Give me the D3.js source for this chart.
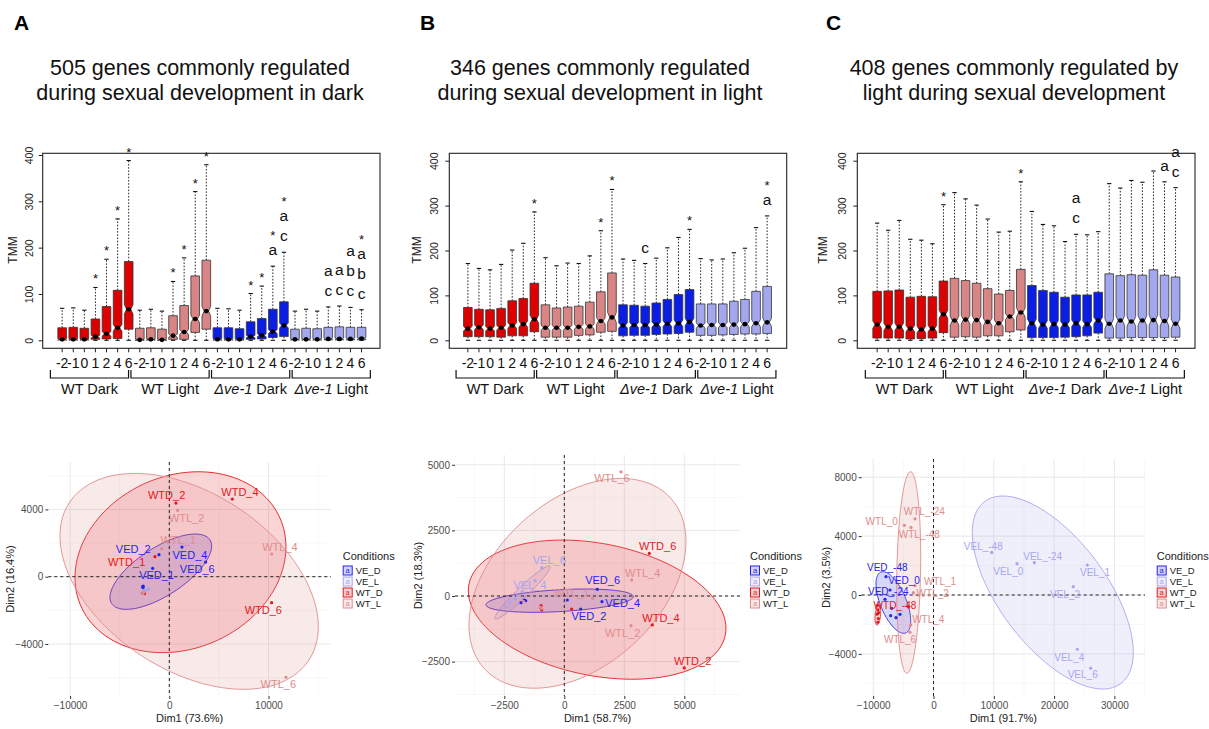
<!DOCTYPE html>
<html><head><meta charset="utf-8">
<script src="https://cdn.jsdelivr.net/npm/d3@7"></script>
<style>
body{margin:0;background:#fff}
svg{display:block}
text{font-family:"Liberation Sans",Arial,Helvetica,sans-serif}
</style>
</head><body>
<svg id="c" width="1209" height="729"></svg>
<script>
// ================= DATA =================
const panelLetters = ["A","B","C"];
const titleLines = [
  ["505 genes commonly regulated","during sexual development in dark"],
  ["346 genes commonly regulated","during sexual development in light"],
  ["408 genes commonly regulated by","light during sexual development"]
];
const timeLabels = ["-2","-1","0","1","2","4","6"];
const groupNames = ["WT Dark","WT Light","Δve-1 Dark","Δve-1 Light"];
const boxYTicks = [0,100,200,300,400];
const geneCounts = [505,346,408];

// Panel A boxplots (28 boxes: 4 groups x 7 time points)
const A_q1  = [1,1,1,2,3,4,24, 1,1,1,2,2,17,24, 1,1,1,2,3,6,8, 1,1,1,1,1,1,1];
const A_med = [2,2,2,8,14,27,67, 1,2,1,10,18,46,63, 2,2,2,8,11,19,32, 2,2,2,3,3,3,4];
const A_q3  = [27,28,26,46,73,108,170, 26,27,24,53,75,139,173, 27,27,25,40,47,67,83, 24,26,25,28,29,28,28];
const A_hi  = [69,70,65,114,175,262,388, 65,67,63,127,178,321,379, 69,68,65,101,117,160,190, 63,67,63,72,74,71,66];
const A_sig = ["","","","*","*","*","*", "","","","*","*","*","*", "","","","*","*","*a","*ac", "","","","ac","ac","abc","*abc"];

// Panel B boxplots
const B_q1  = [8,8,8,7,10,10,19, 7,7,7,11,12,18,20, 10,11,11,13,14,15,18, 11,11,12,13,14,14,15];
const B_med = [26,29,26,28,33,36,47, 28,28,28,30,31,43,51, 33,34,34,35,37,38,41, 33,34,34,35,36,38,40];
const B_q3  = [73,69,68,71,88,93,127, 79,72,74,76,85,108,150, 79,78,76,83,91,102,113, 81,81,81,87,91,109,120];
const B_hi  = [171,160,157,169,201,216,286, 184,166,172,171,188,244,336, 181,178,171,183,206,229,247, 182,179,181,195,205,251,277];
const B_sig = ["","","","","","","*", "","","","","","*","*", "","","c","","","","*", "","","","","","","*a"];

// Panel C boxplots
const C_q1  = [5,5,5,3,4,5,17, 7,8,7,10,10,19,23, 6,6,6,7,8,10,16, 5,5,6,6,6,6,7];
const C_med = [35,30,30,26,24,26,58, 44,46,45,41,38,53,62, 38,35,36,35,38,36,44, 37,44,42,44,45,43,37];
const C_q3  = [109,110,112,96,98,97,132, 138,133,127,115,103,111,158, 122,111,107,96,101,101,107, 148,144,146,145,157,145,141];
const C_hi  = [261,245,267,225,223,215,302, 329,315,301,270,241,243,353, 287,258,255,220,236,235,242, 349,339,356,352,377,353,340];
const C_sig = ["","","","","","","*", "","","","","","","*", "","","","","ac","","", "","","","","","a","ac"];

// PCA
const condNames = ["VE_D","VE_L","WT_D","WT_L"];
const dimLabels = [["Dim1 (73.6%)","Dim2 (16.4%)"],["Dim1 (58.7%)","Dim2 (18.3%)"],["Dim1 (91.7%)","Dim2 (3.5%)"]];
const pcaA_xTicks = [-10000,0,10000];
const pcaA_yTicks = [-4000,0,4000];
const pcaB_xTicks = [-2500,0,2500,5000];
const pcaB_yTicks = [-2500,0,2500,5000];
const pcaC_xTicks = [-10000,0,10000,20000,30000];
const pcaC_yTicks = [-4000,0,4000,8000];

// PCA A samples (cond index into condNames), coordinates and label positions (data units)
const pcaA_name = ["WTD_2","WTL_2","WTD_4","WTL_4","WTL_1","VED_2","WTD_1","VED_4","VED_6","VED_1","WTD_6","WTL_6",
  "","","", "","","","","","","", "","","", "","",""];
const pcaA_cond = [2,3,2,3,3,0,2,0,0,0,2,3, 0,0,0, 1,1,1,1,1,1,1, 2,2,2, 3,3,3];
const pcaA_x = [672,840,6351,10316,-773,-1042,-1445,1277,3663,-1680,10316,11761,
  -2621,-2688,-2650, -2800,-2650,-2500,-2400,-2250,-2100,-2600, -2681,-2600,-2500, -2621,-2580,-2680];
const pcaA_y = [4376,3941,4614,1347,1663,1307,1188,1762,871,495,-1545,-5980,
  -553,-594,-650, -960,-910,-860,-820,-770,-720,-890, -987,-980,-1000, -950,-900,-1000];
const pcaA_lx = [-269,1747,7124,11156,907,-3629,-4301,2083,2823,-1277,9476,10988];
const pcaA_ly = [4851,3505,5010,1743,2178,1644,891,1287,475,99,-1980,-6396];
// ellipses per condition: centre, half-extents, correlation
const ellA_cx = [-857,-2450,1126,2000];
const ellA_cy = [297,-840,862,-277];
const ellA_rx = [5124,450,10635,13021];
const ellA_ry = [2238,170,5376,6416];
const ellA_rho = [0.68,0.97,0.17,-0.42];

const pcaB_name = ["WTL_6","WTD_6","WTL_4","VED_6","WTL_1","VED_4","VED_2","WTL_2","WTD_4","WTD_2","VEL_6","VEL_4",
  "","","","", "","","","","", "","","","", "","",""];
const pcaB_cond = [3,2,3,0,3,0,0,3,2,2,1,1, 0,0,0,0, 1,1,1,1,1, 2,2,2,2, 3,3,3];
const pcaB_x = [2361,3542,2806,1375,1181,1569,683,2778,3667,5000,-942,-1750,
  -1804,-1667,-1608,125, -1221,-2262,-2050,-2400,-1950, -971,-971,-942,308, -1000,-950,-1700];
const pcaB_y = [4733,1624,609,254,-89,-216,-495,-1129,-1104,-2741,1078,164,
  -255,-152,-179,-152, 583,-240,-120,-420,0, -370,-469,-533,-495, -420,-480,-200];
const pcaB_lx = [1986,3889,3264,1597,306,2431,1028,2431,4028,5347,-625,-1431];
const pcaB_ly = [4480,1904,863,609,127,-279,-761,-1396,-850,-2462,1371,419];
const ellB_cx = [-194,-1743,1368,549];
const ellB_cy = [-178,133,-520,482];
const ellB_rx = [3069,1146,5368,4521];
const ellB_ry = [444,1009,2652,3997];
const ellB_rho = [0.35,0.96,-0.27,0.4];

const pcaC_name = ["WTL_-24","WTL_0","WTL_-48","VEL_-48","VEL_-24","VEL_0","VEL_1","VEL_2","VEL_4","VEL_6",
  "VED_-48","VED_0","VED_-24","WTD_-48","WTL_1","WTL_2","WTL_4","WTL_6",
  "","","","", "","","","","",""];
const pcaC_cond = [3,3,3,1,1,1,1,1,1,1, 0,0,0,2,3,3,3,3, 0,0,0,0, 2,2,2,2,2,2];
const pcaC_x = [-3068,-4842,-3731,9646,16720,13847,25506,23184,23847,26070,
  -7877,-7214,-8043,-4179,-3068,-3350,-3781,-3897,
  -6932,-6219,-5556,-7098, -9300,-9200,-9350,-9150,-9250,-9100];
const pcaC_y = [5175,4723,4588,2893,2192,2124,2034,565,-3684,-4972,
  1243,340,-292,-794,632,158,-2034,-2534,
  -904,-1542,-1311,-1406, -700,-1000,-1300,-1600,-1850,-1200];
const pcaC_lx = [-1526,-8590,-2355,8259,18109,12405,26783,21808,22521,24743,-7662,-4892,-7496,-6385,1078,-133,-862,-5556];
const pcaC_ly = [5650,4972,4113,3322,2599,1582,1537,68,-4226,-5424,1876,972,226,-723,904,113,-1627,-2983];
const ellC_cx = [-6659,19784,-9229,-4113];
const ellC_cy = [-510,170,-1358,1528];
const ellC_rx = [2878,13350,473,1990];
const ellC_ry = [2092,6554,679,6846];
const ellC_rho = [-0.6,-0.62,0.3,0.15];

// ================= STYLE / LAYOUT =================
const boxColors = ["#DD0000","#DA8585","#0A1EE6","#A3A8EE"];
const condColors = ["#2424EE","#A6A6F0","#E2181C","#E08C8C"];

const boxLayout = [
  {frame:[42.7,153.3,380,348.3], xr:[55.4,368.3], y0:340.3, y400:155, tickLabX:32.7, tmmX:17, titleX:200, letterX:14},
  {frame:[449.3,153.3,786.7,348.3], xr:[461.1,773.9], y0:340.3, y400:160.7, tickLabX:438, tmmX:420.7, titleX:600, letterX:420},
  {frame:[857.3,153.3,1195,348.3], xr:[870.4,1182.3], y0:340.3, y400:160.7, tickLabX:846, tmmX:827, titleX:1014, letterX:826}
];
const pcaLayout = [
  {px:[48.3,331], py:[462,696], x0:169.3, xs:99.2/10000, y0:576.7, ys:67.3/4000, legX:342.7, ylabX:14, lbl:11},
  {px:[455,740], py:[455,696], x0:564.3, xs:60/2500, y0:596, ys:65.6/2500, legX:750, ylabX:421.7, lbl:11},
  {px:[861.7,1145], py:[459,696], x0:933.5, xs:60.3/10000, y0:595, ys:58.9/4000, legX:1156.7, ylabX:830, lbl:10}
];

const svg = d3.select("#c");

// ================= HEADERS =================
panelLetters.forEach((L,i)=>{
  svg.append("text").attr("x",boxLayout[i].letterX).attr("y",30).attr("font-size",21).attr("font-weight","bold").text(L);
  titleLines[i].forEach((t,j)=>{
    svg.append("text").attr("x",boxLayout[i].titleX).attr("y",75+j*24.5).attr("text-anchor","middle")
      .attr("font-size",21.5).attr("fill","#111").text(t);
  });
});

// ================= BOXPLOTS =================
function drawBoxes(i,q1,med,q3,hi,sig){
  const L = boxLayout[i];
  const g = svg.append("g");
  const x = d3.scaleBand().domain(d3.range(28)).range(L.xr).padding(0.22);
  const y = d3.scaleLinear().domain([0,400]).range([L.y0,L.y400]);
  const bw = x.bandwidth();
  const n = geneCounts[i];

  // y axis
  const ya = g.append("g").attr("transform",`translate(${L.frame[0]},0)`)
    .call(d3.axisLeft(y).tickValues(boxYTicks).tickSize(4).tickFormat(d3.format("d")));
  ya.select(".domain").remove();
  ya.selectAll("line").attr("stroke","#222");
  ya.selectAll("text").attr("x",null).attr("dy",null).attr("text-anchor","middle")
    .attr("font-size",10.5).attr("fill","#222").attr("font-family",null)
    .attr("transform",`translate(${L.tickLabX-L.frame[0]},0) rotate(-90)`);
  g.append("text").attr("transform",`translate(${L.tmmX},250) rotate(-90)`).attr("text-anchor","middle")
    .attr("font-size",12).attr("fill","#222").text("TMM");

  // x axis
  const xa = g.append("g").attr("transform",`translate(0,${L.frame[3]})`)
    .call(d3.axisBottom(x).tickSize(4).tickFormat(d=>timeLabels[d%7]));
  xa.select(".domain").remove();
  xa.selectAll("line").attr("stroke","#222");
  xa.selectAll("text").attr("y",10).attr("font-size",14).attr("fill","#111").attr("font-family",null);

  // brackets and group labels
  const c0 = x(0)+bw/2, c27 = x(27)+bw/2;
  const bx0 = c0-13, bx1 = c27+10, wg = (bx1-bx0)/4;
  groupNames.forEach((nm,k)=>{
    const a = bx0+k*wg+1.2, b = bx0+(k+1)*wg-1.2;
    g.append("path").attr("d",`M${a},370V378H${b}V370`).attr("fill","none").attr("stroke","#111").attr("stroke-width",1.2);
    const t = g.append("text").attr("x",(a+b)/2).attr("y",394).attr("text-anchor","middle").attr("font-size",14.5).attr("fill","#111");
    if(nm.startsWith("Δ")){
      const parts = nm.split(" ");
      t.append("tspan").attr("font-style","italic").text(parts[0]);
      t.append("tspan").text(" "+parts[1]);
    } else t.text(nm);
  });

  // boxes
  d3.range(28).forEach(j=>{
    const cx = x(j)+bw/2, l = x(j), r = x(j)+bw;
    const col = boxColors[Math.floor(j/7)];
    const nt = 1.58*(q3[j]-q1[j])/Math.sqrt(n);
    // whiskers
    g.append("line").attr("x1",cx).attr("x2",cx).attr("y1",y(q3[j])).attr("y2",y(hi[j]))
      .attr("stroke","#111").attr("stroke-width",0.9).attr("stroke-dasharray","1.6,1.6");
    g.append("line").attr("x1",cx).attr("x2",cx).attr("y1",y(q1[j])).attr("y2",y(0))
      .attr("stroke","#111").attr("stroke-width",0.9).attr("stroke-dasharray","1.6,1.6");
    [hi[j],0].forEach(v=>g.append("line").attr("x1",cx-bw/4).attr("x2",cx+bw/4).attr("y1",y(v)).attr("y2",y(v))
      .attr("stroke","#111").attr("stroke-width",1.1));
    const pts = [[l,y(q1[j])],[l,y(med[j]-nt)],[cx-bw/4,y(med[j])],[l,y(med[j]+nt)],[l,y(q3[j])],
                 [r,y(q3[j])],[r,y(med[j]+nt)],[cx+bw/4,y(med[j])],[r,y(med[j]-nt)],[r,y(q1[j])]];
    g.append("path").attr("d","M"+pts.map(p=>p.join(",")).join("L")+"Z")
      .attr("fill",col).attr("stroke","#333").attr("stroke-width",0.8);
    g.append("line").attr("x1",cx-bw/4).attr("x2",cx+bw/4).attr("y1",y(med[j])).attr("y2",y(med[j]))
      .attr("stroke","#000").attr("stroke-width",2.2);
    g.append("circle").attr("cx",cx).attr("cy",y(med[j])).attr("r",2.3).attr("fill","#000");

    // significance annotations, stacked from the whisker cap upward
    const s = sig[j];
    let base = null, prevStar=false;
    for(let m=s.length-1;m>=0;m--){
      const ch = s[m];
      if(base===null) base = y(hi[j]) - (ch==="*"?4:11);
      else base = base - (ch==="*"?15:20);
      g.append("text").attr("x",cx).attr("y",base).attr("text-anchor","middle")
        .attr("font-size",ch==="*"?13:15.5).attr("fill","#111").text(ch);
    }
  });

  // frame
  g.append("rect").attr("x",L.frame[0]).attr("y",L.frame[1]).attr("width",L.frame[2]-L.frame[0])
    .attr("height",L.frame[3]-L.frame[1]).attr("fill","none").attr("stroke","#222").attr("stroke-width",1.1);
}
drawBoxes(0,A_q1,A_med,A_q3,A_hi,A_sig);
drawBoxes(1,B_q1,B_med,B_q3,B_hi,B_sig);
drawBoxes(2,C_q1,C_med,C_q3,C_hi,C_sig);

// ================= PCA =================
function fmt(d){ return d<0 ? "\u2212"+Math.abs(d) : String(d); }
function drawPCA(k,P){
  const L = pcaLayout[k];
  const xd = [(L.px[0]-L.x0)/L.xs,(L.px[1]-L.x0)/L.xs];
  const yd = [(L.y0-L.py[0])/L.ys,(L.y0-L.py[1])/L.ys];
  const x = d3.scaleLinear().domain(xd).range(L.px);
  const y = d3.scaleLinear().domain(yd).range(L.py);
  const g = svg.append("g");
  const minors = (ticks,dom)=>{
    const st = ticks[1]-ticks[0], out=[];
    for(let v=ticks[0]-st/2; v<=ticks[ticks.length-1]+st; v+=st){
      if(v>=Math.min(...dom) && v<=Math.max(...dom)) out.push(v);
    }
    return out;
  };
  minors(P.xTicks,xd).forEach(v=>g.append("line").attr("x1",x(v)).attr("x2",x(v)).attr("y1",L.py[0]).attr("y2",L.py[1]).attr("stroke","#F2F2F2").attr("stroke-width",0.6));
  minors(P.yTicks,yd).forEach(v=>g.append("line").attr("y1",y(v)).attr("y2",y(v)).attr("x1",L.px[0]).attr("x2",L.px[1]).attr("stroke","#F2F2F2").attr("stroke-width",0.6));
  P.xTicks.forEach(v=>g.append("line").attr("x1",x(v)).attr("x2",x(v)).attr("y1",L.py[0]).attr("y2",L.py[1]).attr("stroke","#E8E8E8").attr("stroke-width",1));
  P.yTicks.forEach(v=>g.append("line").attr("y1",y(v)).attr("y2",y(v)).attr("x1",L.px[0]).attr("x2",L.px[1]).attr("stroke","#E8E8E8").attr("stroke-width",1));

  // ellipses
  const E = P.ell;
  [0,1,2,3].forEach(c=>{
    const ph = Math.acos(E.rho[c]);
    const pts = d3.range(0,121).map(i=>{ const t=i/120*2*Math.PI;
      return [x(E.cx[c]+E.rx[c]*Math.cos(t)), y(E.cy[c]+E.ry[c]*Math.cos(t+ph))]; });
    g.append("path").attr("d",d3.line()(pts)+"Z").attr("fill",condColors[c]).attr("fill-opacity",0.18)
      .attr("stroke",condColors[c]).attr("stroke-width",0.9);
  });

  // zero lines
  g.append("line").attr("x1",x(0)).attr("x2",x(0)).attr("y1",L.py[0]).attr("y2",L.py[1]).attr("stroke","#222").attr("stroke-width",1).attr("stroke-dasharray","3,3");
  g.append("line").attr("y1",y(0)).attr("y2",y(0)).attr("x1",L.px[0]).attr("x2",L.px[1]).attr("stroke","#222").attr("stroke-width",1).attr("stroke-dasharray","3,3");

  // points
  P.px.forEach((v,i)=>{
    g.append("circle").attr("cx",x(v)).attr("cy",y(P.py[i])).attr("r",1.6).attr("fill",condColors[P.cond[i]]);
  });
  // labels
  P.name.forEach((nm,i)=>{
    if(!nm) return;
    g.append("text").attr("x",x(P.lx[i])).attr("y",y(P.ly[i])).attr("dy","0.36em").attr("text-anchor","middle")
      .attr("font-size",L.lbl).attr("fill",condColors[P.cond[i]]).text(nm);
  });

  // axes
  const xa = g.append("g").attr("transform",`translate(0,${L.py[1]})`)
    .call(d3.axisBottom(x).tickValues(P.xTicks).tickSize(3).tickPadding(2.4).tickFormat(fmt));
  xa.select(".domain").remove();
  xa.selectAll("line").attr("stroke","#333");
  xa.selectAll("text").attr("font-size",10).attr("fill","#4D4D4D").attr("font-family",null);
  const ya = g.append("g").attr("transform",`translate(${L.px[0]},0)`)
    .call(d3.axisLeft(y).tickValues(P.yTicks).tickSize(3).tickPadding(2).tickFormat(fmt));
  ya.select(".domain").remove();
  ya.selectAll("line").attr("stroke","#333");
  ya.selectAll("text").attr("font-size",10).attr("fill","#4D4D4D").attr("font-family",null);

  g.append("text").attr("x",(L.px[0]+L.px[1])/2).attr("y",722).attr("text-anchor","middle").attr("font-size",11).attr("fill","#222").text(dimLabels[k][0]);
  g.append("text").attr("transform",`translate(${L.ylabX},${(L.py[0]+L.py[1])/2}) rotate(-90)`).attr("text-anchor","middle").attr("font-size",11).attr("fill","#222").text(dimLabels[k][1]);

  // legend
  g.append("text").attr("x",L.legX).attr("y",560).attr("font-size",11).attr("fill","#222").text("Conditions");
  condNames.forEach((nm,c)=>{
    const cy = 570.5+c*11;
    g.append("rect").attr("x",L.legX+0.5).attr("y",cy-4.5).attr("width",9).attr("height",9)
      .attr("fill",condColors[c]).attr("fill-opacity",0.2).attr("stroke",condColors[c]).attr("stroke-width",1);
    g.append("text").attr("x",L.legX+5).attr("y",cy+2.5).attr("text-anchor","middle").attr("font-size",7.5).attr("fill",condColors[c]).text("a");
    g.append("text").attr("x",L.legX+13).attr("y",cy+3.5).attr("font-size",9.5).attr("fill","#222").text(nm);
  });
}
drawPCA(0,{xTicks:pcaA_xTicks,yTicks:pcaA_yTicks,name:pcaA_name,cond:pcaA_cond,px:pcaA_x,py:pcaA_y,lx:pcaA_lx,ly:pcaA_ly,
  ell:{cx:ellA_cx,cy:ellA_cy,rx:ellA_rx,ry:ellA_ry,rho:ellA_rho}});
drawPCA(1,{xTicks:pcaB_xTicks,yTicks:pcaB_yTicks,name:pcaB_name,cond:pcaB_cond,px:pcaB_x,py:pcaB_y,lx:pcaB_lx,ly:pcaB_ly,
  ell:{cx:ellB_cx,cy:ellB_cy,rx:ellB_rx,ry:ellB_ry,rho:ellB_rho}});
drawPCA(2,{xTicks:pcaC_xTicks,yTicks:pcaC_yTicks,name:pcaC_name,cond:pcaC_cond,px:pcaC_x,py:pcaC_y,lx:pcaC_lx,ly:pcaC_ly,
  ell:{cx:ellC_cx,cy:ellC_cy,rx:ellC_rx,ry:ellC_ry,rho:ellC_rho}});
</script>
</body></html>
